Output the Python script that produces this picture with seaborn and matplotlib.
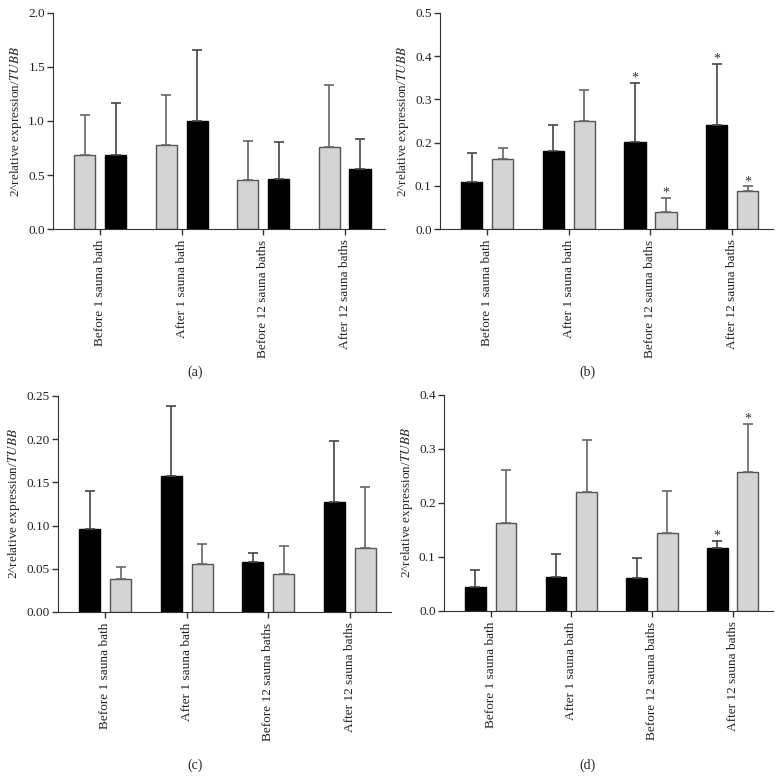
import matplotlib
matplotlib.use('Agg')
import matplotlib.pyplot as plt
import numpy as np
import pandas as pd
import seaborn as sns

times = ['Before 1 sauna bath', 'After 1 sauna bath', 'Before 12 sauna baths', 'After 12 sauna baths']

# panel (a): light bars drawn first
a_light = [0.687, 0.774, 0.458, 0.755]
a_light_sd = [0.366, 0.464, 0.353, 0.579]
a_dark = [0.687, 0.997, 0.464, 0.554]
a_dark_sd = [0.480, 0.659, 0.341, 0.282]

# panel (b)
b_dark = [0.109, 0.181, 0.202, 0.2415]
b_dark_sd = [0.068, 0.059, 0.136, 0.1405]
b_light = [0.161, 0.249, 0.040, 0.0887]
b_light_sd = [0.0265, 0.0735, 0.032, 0.0103]
b_dark_star = [False, False, True, True]
b_light_star = [False, False, True, True]

# panel (c)
c_dark = [0.0965, 0.1568, 0.0579, 0.1274]
c_dark_sd = [0.0429, 0.0814, 0.0104, 0.0706]
c_light = [0.0382, 0.0556, 0.0440, 0.0741]
c_light_sd = [0.0135, 0.0236, 0.0328, 0.0707]

# panel (d)
d_dark = [0.045, 0.0623, 0.0605, 0.116]
d_dark_sd = [0.0309, 0.0427, 0.0375, 0.014]
d_light = [0.1636, 0.2204, 0.1444, 0.2568]
d_light_sd = [0.0969, 0.0963, 0.0772, 0.0895]
d_dark_star = [False, False, False, True]
d_light_star = [False, False, False, True]

no_star = [False] * 4

sns.set_style('ticks')
plt.rcParams['font.family'] = ['Liberation Serif', 'DejaVu Serif']
plt.rcParams['mathtext.fontset'] = 'stix'
plt.rcParams['axes.edgecolor'] = '#333333'
plt.rcParams['xtick.color'] = '#333333'
plt.rcParams['ytick.color'] = '#333333'
plt.rcParams['xtick.labelcolor'] = '#222222'
plt.rcParams['ytick.labelcolor'] = '#222222'

LIGHT = '#d4d4d4'
DARK = '#000000'
style = {'light': (LIGHT, '#555555', '#666666'), 'dark': (DARK, '#000000', '#444444')}


def drawPanel(ax, series, ylim, step, fmt):
    # series: list of (kind, values, sd, stars) in drawing order
    rows = []
    for kind, vals, sd, stars in series:
        for t, v in zip(times, vals):
            rows.append({'time': t, 'series': kind, 'value': v})
    df = pd.DataFrame(rows)
    order = [s[0] for s in series]
    sns.barplot(data=df, x='time', y='value', hue='series', hue_order=order,
                palette={k: style[k][0] for k in order}, errorbar=None,
                width=0.76, gap=0.32, legend=False, linewidth=1, ax=ax)
    bars = ax.patches
    for i, (kind, vals, sd, stars) in enumerate(series):
        for j in range(len(times)):
            p = bars[i * len(times) + j]
            p.set_edgecolor(style[kind][1])
            xc = p.get_x() + p.get_width() / 2
            ax.errorbar(xc, vals[j], yerr=[[0], [sd[j]]], fmt='none',
                        ecolor=style[kind][2], elinewidth=1.2, capsize=3.6,
                        capthick=1.2, zorder=1)
            if stars[j]:
                ax.annotate('*', (xc, vals[j] + sd[j]), xytext=(0, -1.5),
                            textcoords='offset points', ha='center', va='bottom',
                            fontsize=10, color='#333333')
    ax.set_xlim(-0.58, 3.5)
    ax.set_ylim(*ylim)
    ax.set_yticks(np.arange(0, ylim[1] + step / 2, step))
    ax.yaxis.set_major_formatter(matplotlib.ticker.FormatStrFormatter(fmt))
    ax.set_xlabel('')
    ax.set_ylabel(r'2^relative expression/$\mathit{TUBB}$', fontsize=9.5, labelpad=3)
    ax.tick_params(axis='x', labelrotation=90, labelsize=9.5, length=4, width=1)
    ax.tick_params(axis='y', labelsize=9.5, length=4, width=1, pad=2)
    for lab in ax.get_xticklabels():
        lab.set_va('top')
    sns.despine(ax=ax)


fig = plt.figure(figsize=(7.83, 7.83), dpi=100)

ax_a = fig.add_axes([0.068, 0.7075, 0.424, 0.276])
drawPanel(ax_a, [('light', a_light, a_light_sd, no_star),
                 ('dark', a_dark, a_dark_sd, no_star)], (0, 2.0), 0.5, '%.1f')

ax_b = fig.add_axes([0.562, 0.7075, 0.425, 0.276])
drawPanel(ax_b, [('dark', b_dark, b_dark_sd, b_dark_star),
                 ('light', b_light, b_light_sd, b_light_star)], (0, 0.5), 0.1, '%.1f')

ax_c = fig.add_axes([0.074, 0.2184, 0.425, 0.276])
drawPanel(ax_c, [('dark', c_dark, c_dark_sd, no_star),
                 ('light', c_light, c_light_sd, no_star)], (0, 0.25), 0.05, '%.2f')

ax_d = fig.add_axes([0.567, 0.2197, 0.42, 0.276])
drawPanel(ax_d, [('dark', d_dark, d_dark_sd, d_dark_star),
                 ('light', d_light, d_light_sd, d_light_star)], (0, 0.4), 0.1, '%.1f')

for x, y, s in [(0.249, 0.525, '(a)'), (0.75, 0.525, '(b)'),
                (0.249, 0.023, '(c)'), (0.75, 0.023, '(d)')]:
    fig.text(x, y, s, ha='center', va='center', fontsize=10)

fig.savefig('out.png', dpi=100)
